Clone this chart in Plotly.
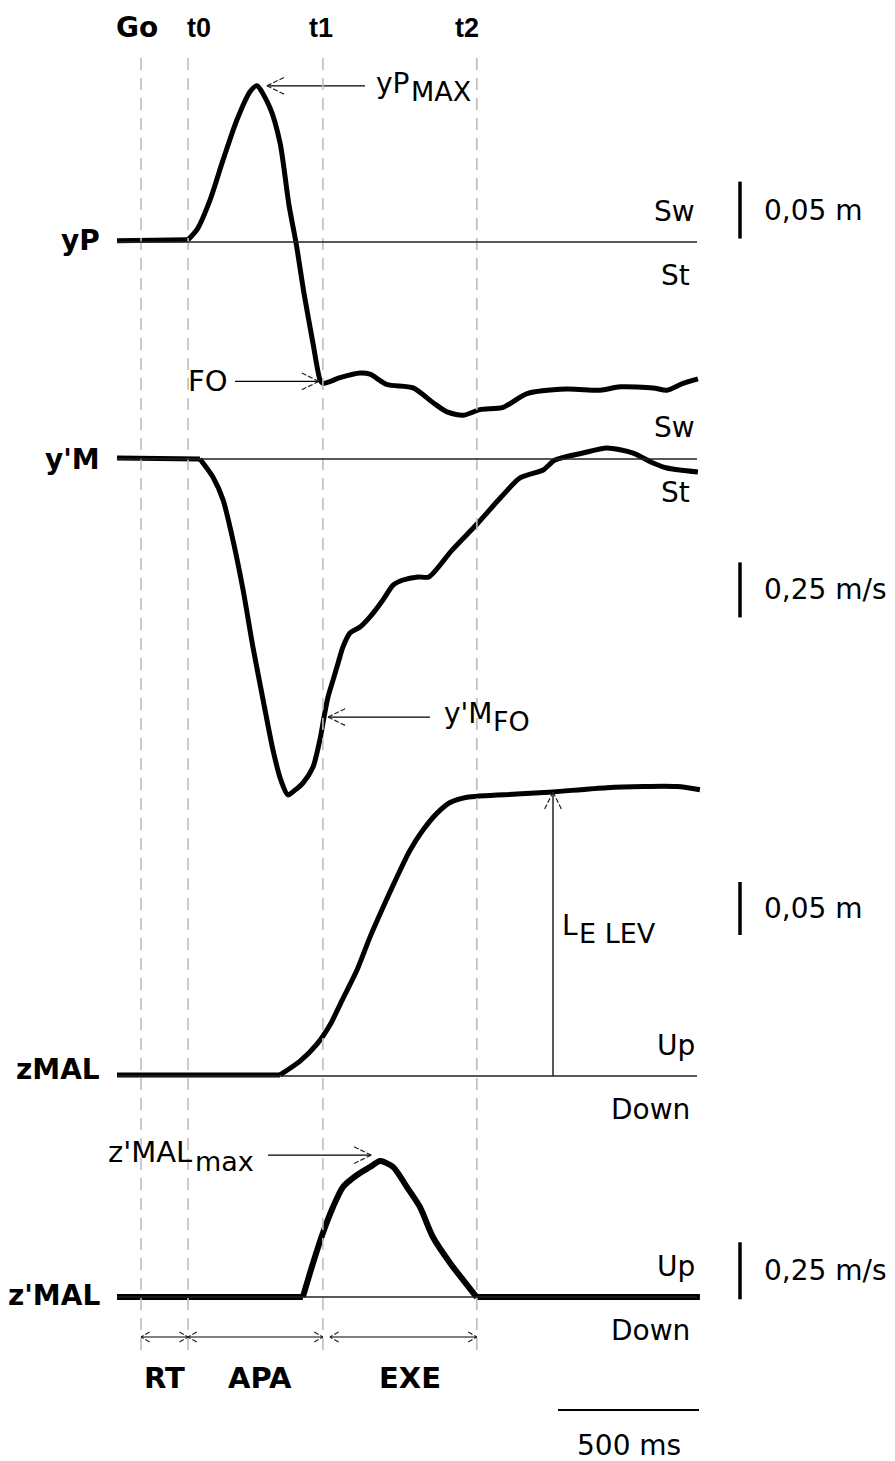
import math
import plotly.graph_objects as go

# ---------------- data (time in ms, Go = 0) ----------------
event_names = ["Go", "t0", "t1", "t2"]
event_times = [0, 167, 645, 1191]
event_xshift = [-4, 11, -2, -10]

phase_names = ["RT", "APA", "EXE"]
phase_start = [0, 167, 670]
phase_end = [167, 645, 1191]

# yP : medio-lateral CoP displacement (m)
time_yP = [-85, 0, 78, 167, 199, 245, 291, 340, 387, 411, 457, 493, 525, 550, 578,
           610, 635, 645, 706, 777, 812, 872, 965, 1036, 1085, 1142, 1202, 1284,
           1369, 1511, 1628, 1699, 1816, 1865, 1922, 1975]
yP = [0.001, 0.001, 0.002, 0.002, 0.011, 0.037, 0.072, 0.107, 0.132, 0.137, 0.118,
      0.087, 0.032, -0.001, -0.045, -0.089, -0.121, -0.124, -0.119, -0.115, -0.116,
      -0.125, -0.128, -0.141, -0.149, -0.152, -0.147, -0.145, -0.133, -0.129,
      -0.130, -0.127, -0.128, -0.130, -0.124, -0.120]

# y'M : medio-lateral CoM velocity (m/s)
time_yM = [-85, 100, 180, 209, 255, 291, 326, 362, 397, 433, 468, 496, 521, 546, 574,
           610, 635, 649, 663, 681, 699, 716, 741, 777, 812, 858, 894, 929, 982,
           1021, 1103, 1195, 1277, 1344, 1426, 1468, 1567, 1652, 1745, 1816, 1865, 1975]
yM_vel = [0.005, 0.005, 0.005, 0.0, -0.082, -0.186, -0.368, -0.595, -0.855, -1.095,
          -1.323, -1.460, -1.527, -1.505, -1.473, -1.400, -1.273, -1.173, -1.082,
          -1.005, -0.927, -0.855, -0.791, -0.764, -0.718, -0.641, -0.573, -0.550,
          -0.536, -0.536, -0.414, -0.291, -0.173, -0.086, -0.050, -0.005, 0.027,
          0.050, 0.027, -0.018, -0.041, -0.059]

# zMAL : vertical malleolus displacement (m)
time_zMAL = [-85, 200, 493, 564, 624, 670, 716, 766, 812, 858, 908, 954, 1000, 1050,
             1096, 1156, 1333, 1461, 1652, 1901, 1982]
zMAL = [0.001, 0.001, 0.001, 0.014, 0.030, 0.048, 0.073, 0.100, 0.131, 0.159, 0.188,
        0.213, 0.232, 0.248, 0.258, 0.263, 0.266, 0.268, 0.272, 0.273, 0.270]

# z'MAL : vertical malleolus velocity (m/s)
time_zvel = [-85, 300, 574, 610, 645, 681, 716, 766, 812, 848, 894, 943, 989, 1035,
             1096, 1142, 1184, 1191, 1600, 1982]
zMAL_vel = [0.0, 0.0, 0.0, 0.149, 0.281, 0.395, 0.482, 0.535, 0.570, 0.596, 0.570,
            0.482, 0.395, 0.263, 0.149, 0.075, 0.009, 0.0, 0.0, 0.0]

trace_labels = ["yP", "y'M", "zMAL", "z'MAL"]
upper_labels = ["Sw", "Sw", "Up", "Up"]
lower_labels = ["St", "St", "Down", "Down"]
scale_labels = ["0,05 m", "0,25 m/s", "0,05 m", "0,25 m/s"]
scale_values = [0.05, 0.25, 0.05, 0.25]
scale_bottoms = [0.003, -0.72, 0.133, -0.01]
time_scale_ms = 500
elev_time = 1461

# ---------------- layout geometry ----------------
W, H = 895, 1461
PX_PER_MS = 0.282
GO_PX = 141
x_range = [-GO_PX / PX_PER_MS, (W - GO_PX) / PX_PER_MS]
# baseline pixel and pixels per unit for each stacked axis
axis_geo = [("y", 242, 1140), ("y2", 459, 220), ("y3", 1076, 1060), ("y4", 1297, 228)]
label_yshift = [2, 0, 7, 2]

FONT = "DejaVu Sans, Verdana, sans-serif"
FONT_T = "Liberation Sans, Arial, sans-serif"


def py(p):
    return 1 - p / H


def px(p):
    return p / W


def t_of(p):
    return (p - GO_PX) / PX_PER_MS


def x_px(t):
    return GO_PX + PX_PER_MS * t


def v_px(v, k):
    return axis_geo[k][1] - v * axis_geo[k][2]


def v_of(p, k):
    return (axis_geo[k][1] - p) / axis_geo[k][2]


series = [(time_yP, yP), (time_yM, yM_vel), (time_zMAL, zMAL), (time_zvel, zMAL_vel)]
widths = [5, 5, 5, 6]

fig = go.Figure()
shapes = []
ann = []


def text(x_pix, y_pix, s, size=28, anchor="left", bold=False, fam=FONT):
    ann.append(dict(xref="paper", yref="paper", x=px(x_pix), y=py(y_pix),
                    text=("<b>%s</b>" % s) if bold else s, showarrow=False,
                    xanchor=anchor, yanchor="middle",
                    font=dict(size=size, family=fam, color="black")))


# dashed event lines
for t in event_times:
    shapes.append(dict(type="line", xref="x", yref="paper", x0=t, x1=t,
                       y0=py(58), y1=py(1358),
                       line=dict(color="#bdbdbd", width=1.6, dash="12px,8px")))


def split_segments(tt, vv, tol=0.0055):
    n = len(vv)
    i0 = 0
    while i0 + 1 < n and abs(vv[i0 + 1]) < tol:
        i0 += 1
    i1 = n - 1
    while i1 - 1 > i0 and abs(vv[i1 - 1]) < tol:
        i1 -= 1
    if abs(vv[-1]) >= tol:
        i1 = n - 1
    segs = []
    if i0 > 0:
        segs.append((tt[:i0 + 1], vv[:i0 + 1], "linear"))
    segs.append((tt[i0:i1 + 1], vv[i0:i1 + 1], "spline"))
    if i1 < n - 1:
        segs.append((tt[i1:], vv[i1:], "linear"))
    return segs


def add_arrow(tip, tail, k, head=19, ang=26, both=False, width=1.3):
    """tip / tail given in pixel space (x right, y down); drawn on axis k."""
    ax = axis_geo[k][0]
    xs, ys = [tail[0], tip[0]], [tail[1], tip[1]]
    fig.add_trace(go.Scatter(x=[t_of(p) for p in xs], y=[v_of(p, k) for p in ys],
                             mode="lines", yaxis=ax, line=dict(color="black", width=width),
                             showlegend=False, hoverinfo="skip"))
    hx, hy = [], []
    ends = [(tip, tail)] + ([(tail, tip)] if both else [])
    for a, b in ends:
        dx, dy = b[0] - a[0], b[1] - a[1]
        L = math.hypot(dx, dy)
        ux, uy = dx / L, dy / L
        for sgn in (1, -1):
            r = math.radians(ang * sgn)
            rx = ux * math.cos(r) - uy * math.sin(r)
            ry = ux * math.sin(r) + uy * math.cos(r)
            hx += [a[0] + head * rx, a[0], None]
            hy += [a[1] + head * ry, a[1], None]
    fig.add_trace(go.Scatter(x=[t_of(p) if p is not None else None for p in hx],
                             y=[v_of(p, k) if p is not None else None for p in hy],
                             mode="lines", yaxis=ax,
                             line=dict(color="#222", width=1.2, dash="5px,2px"),
                             showlegend=False, hoverinfo="skip"))


for i, ((ax, base, s), (tt, vv)) in enumerate(zip(axis_geo, series)):
    # baseline
    shapes.append(dict(type="line", xref="x", yref=ax, x0=tt[0], x1=t_of(697),
                       y0=0, y1=0, line=dict(color="#222", width=1.5)))
    for st, sv, shp in split_segments(tt, vv):
        fig.add_trace(go.Scatter(x=st, y=sv, mode="lines", yaxis=ax,
                                 line=dict(color="black", width=widths[i],
                                           shape=shp, smoothing=0.7),
                                 showlegend=False, hoverinfo="skip"))
    # scale bar
    shapes.append(dict(type="line", xref="x", yref=ax, x0=t_of(740), x1=t_of(740),
                       y0=scale_bottoms[i], y1=scale_bottoms[i] + scale_values[i],
                       line=dict(color="black", width=3.5)))
    ann.append(dict(xref="x", yref=ax, x=t_of(762),
                    y=scale_bottoms[i] + scale_values[i] / 2, text=scale_labels[i],
                    showarrow=False, xanchor="left", yanchor="middle",
                    font=dict(size=28, family=FONT, color="black")))
    # trace name
    ann.append(dict(xref="paper", yref=ax, x=px(102), y=0, yshift=label_yshift[i],
                    text="<b>%s</b>" % trace_labels[i],
                    showarrow=False, xanchor="right", yanchor="middle",
                    font=dict(size=28, family=FONT, color="black")))
    # side labels
    text(697, base - 31, upper_labels[i], anchor="right")
    text(692, base + 33, lower_labels[i], anchor="right")

# event names
for name, t, sh in zip(event_names, event_times, event_xshift):
    fam, size = (FONT, 28) if name == "Go" else (FONT_T, 27)
    ann.append(dict(xref="x", yref="paper", x=t, y=py(28), text="<b>%s</b>" % name,
                    xshift=sh, showarrow=False, xanchor="center", yanchor="middle",
                    font=dict(size=size, family=fam, color="black")))

# yP max
i_max = yP.index(max(yP))
pk = (x_px(time_yP[i_max]) + 10, v_px(yP[i_max], 0))
add_arrow(pk, (365, pk[1]), 0)
text(374, pk[1] - 2, "yP")
text(409, pk[1] + 6, "MAX", size=27)

# FO
i_fo = time_yP.index(645)
fo = (x_px(time_yP[i_fo]) - 4, v_px(yP[i_fo], 0) - 2)
add_arrow(fo, (235, fo[1]), 0)
text(186, fo[1], "FO", size=29)

# y'M at FO
i_fo2 = time_yM.index(649)
fm = (x_px(time_yM[i_fo2]) + 4, v_px(yM_vel[i_fo2], 1))
add_arrow(fm, (430, fm[1]), 1)
text(442, fm[1] - 4, "y'M")
text(491, fm[1] + 4, "FO", size=27)

# L_ELEV
i_el = time_zMAL.index(elev_time)
add_arrow((x_px(elev_time), v_px(zMAL[i_el], 2)), (x_px(elev_time), v_px(0, 2)), 2)
text(560, 925, "L")
text(577, 933, "E LEV", size=27)

# z'MAL max
i_zm = zMAL_vel.index(max(zMAL_vel))
zm = (x_px(time_zvel[i_zm]) - 9, v_px(zMAL_vel[i_zm], 3) - 6)
add_arrow(zm, (268, zm[1]), 3)
text(106, zm[1] - 3, "z'MAL", size=29)
text(193, zm[1] + 6, "max", size=27)

# phase arrows and labels
for name, a, b, sh in zip(phase_names, phase_start, phase_end, [0, 5, 7]):
    add_arrow((x_px(b), 1337), (x_px(a), 1337), 3, head=10, ang=30, both=True, width=1.2)
    ann.append(dict(xref="x", yref="paper", x=(a + b) / 2, y=py(1378), xshift=sh,
                    text="<b>%s</b>" % name, showarrow=False, xanchor="center", yanchor="middle",
                    font=dict(size=29, family=FONT, color="black")))

# time scale bar
t_bar0 = t_of(558)
shapes.append(dict(type="line", xref="x", yref="paper", x0=t_bar0, x1=t_bar0 + time_scale_ms,
                   y0=py(1410), y1=py(1410), line=dict(color="black", width=2)))
ann.append(dict(xref="x", yref="paper", x=t_bar0 + time_scale_ms / 2, y=py(1445),
                text="%d ms" % time_scale_ms, showarrow=False, xanchor="center", yanchor="middle",
                font=dict(size=28, family=FONT, color="black")))

layout_axes = {}
for k, (ax, base, s) in enumerate(axis_geo):
    name = "yaxis" if ax == "y" else "yaxis" + ax[1:]
    d = dict(range=[(base - H) / s, base / s], domain=[0, 1], visible=False, fixedrange=True)
    if ax != "y":
        d["overlaying"] = "y"
    layout_axes[name] = d

fig.update_layout(
    width=W, height=H, autosize=False,
    margin=dict(l=0, r=0, t=0, b=0),
    paper_bgcolor="white", plot_bgcolor="white",
    xaxis=dict(range=x_range, visible=False, fixedrange=True),
    shapes=shapes, annotations=ann, showlegend=False,
    **layout_axes,
)

fig.write_html("out.html", config={"displayModeBar": False},
               post_script="document.body.style.margin='0px';document.body.style.overflow='hidden';")
